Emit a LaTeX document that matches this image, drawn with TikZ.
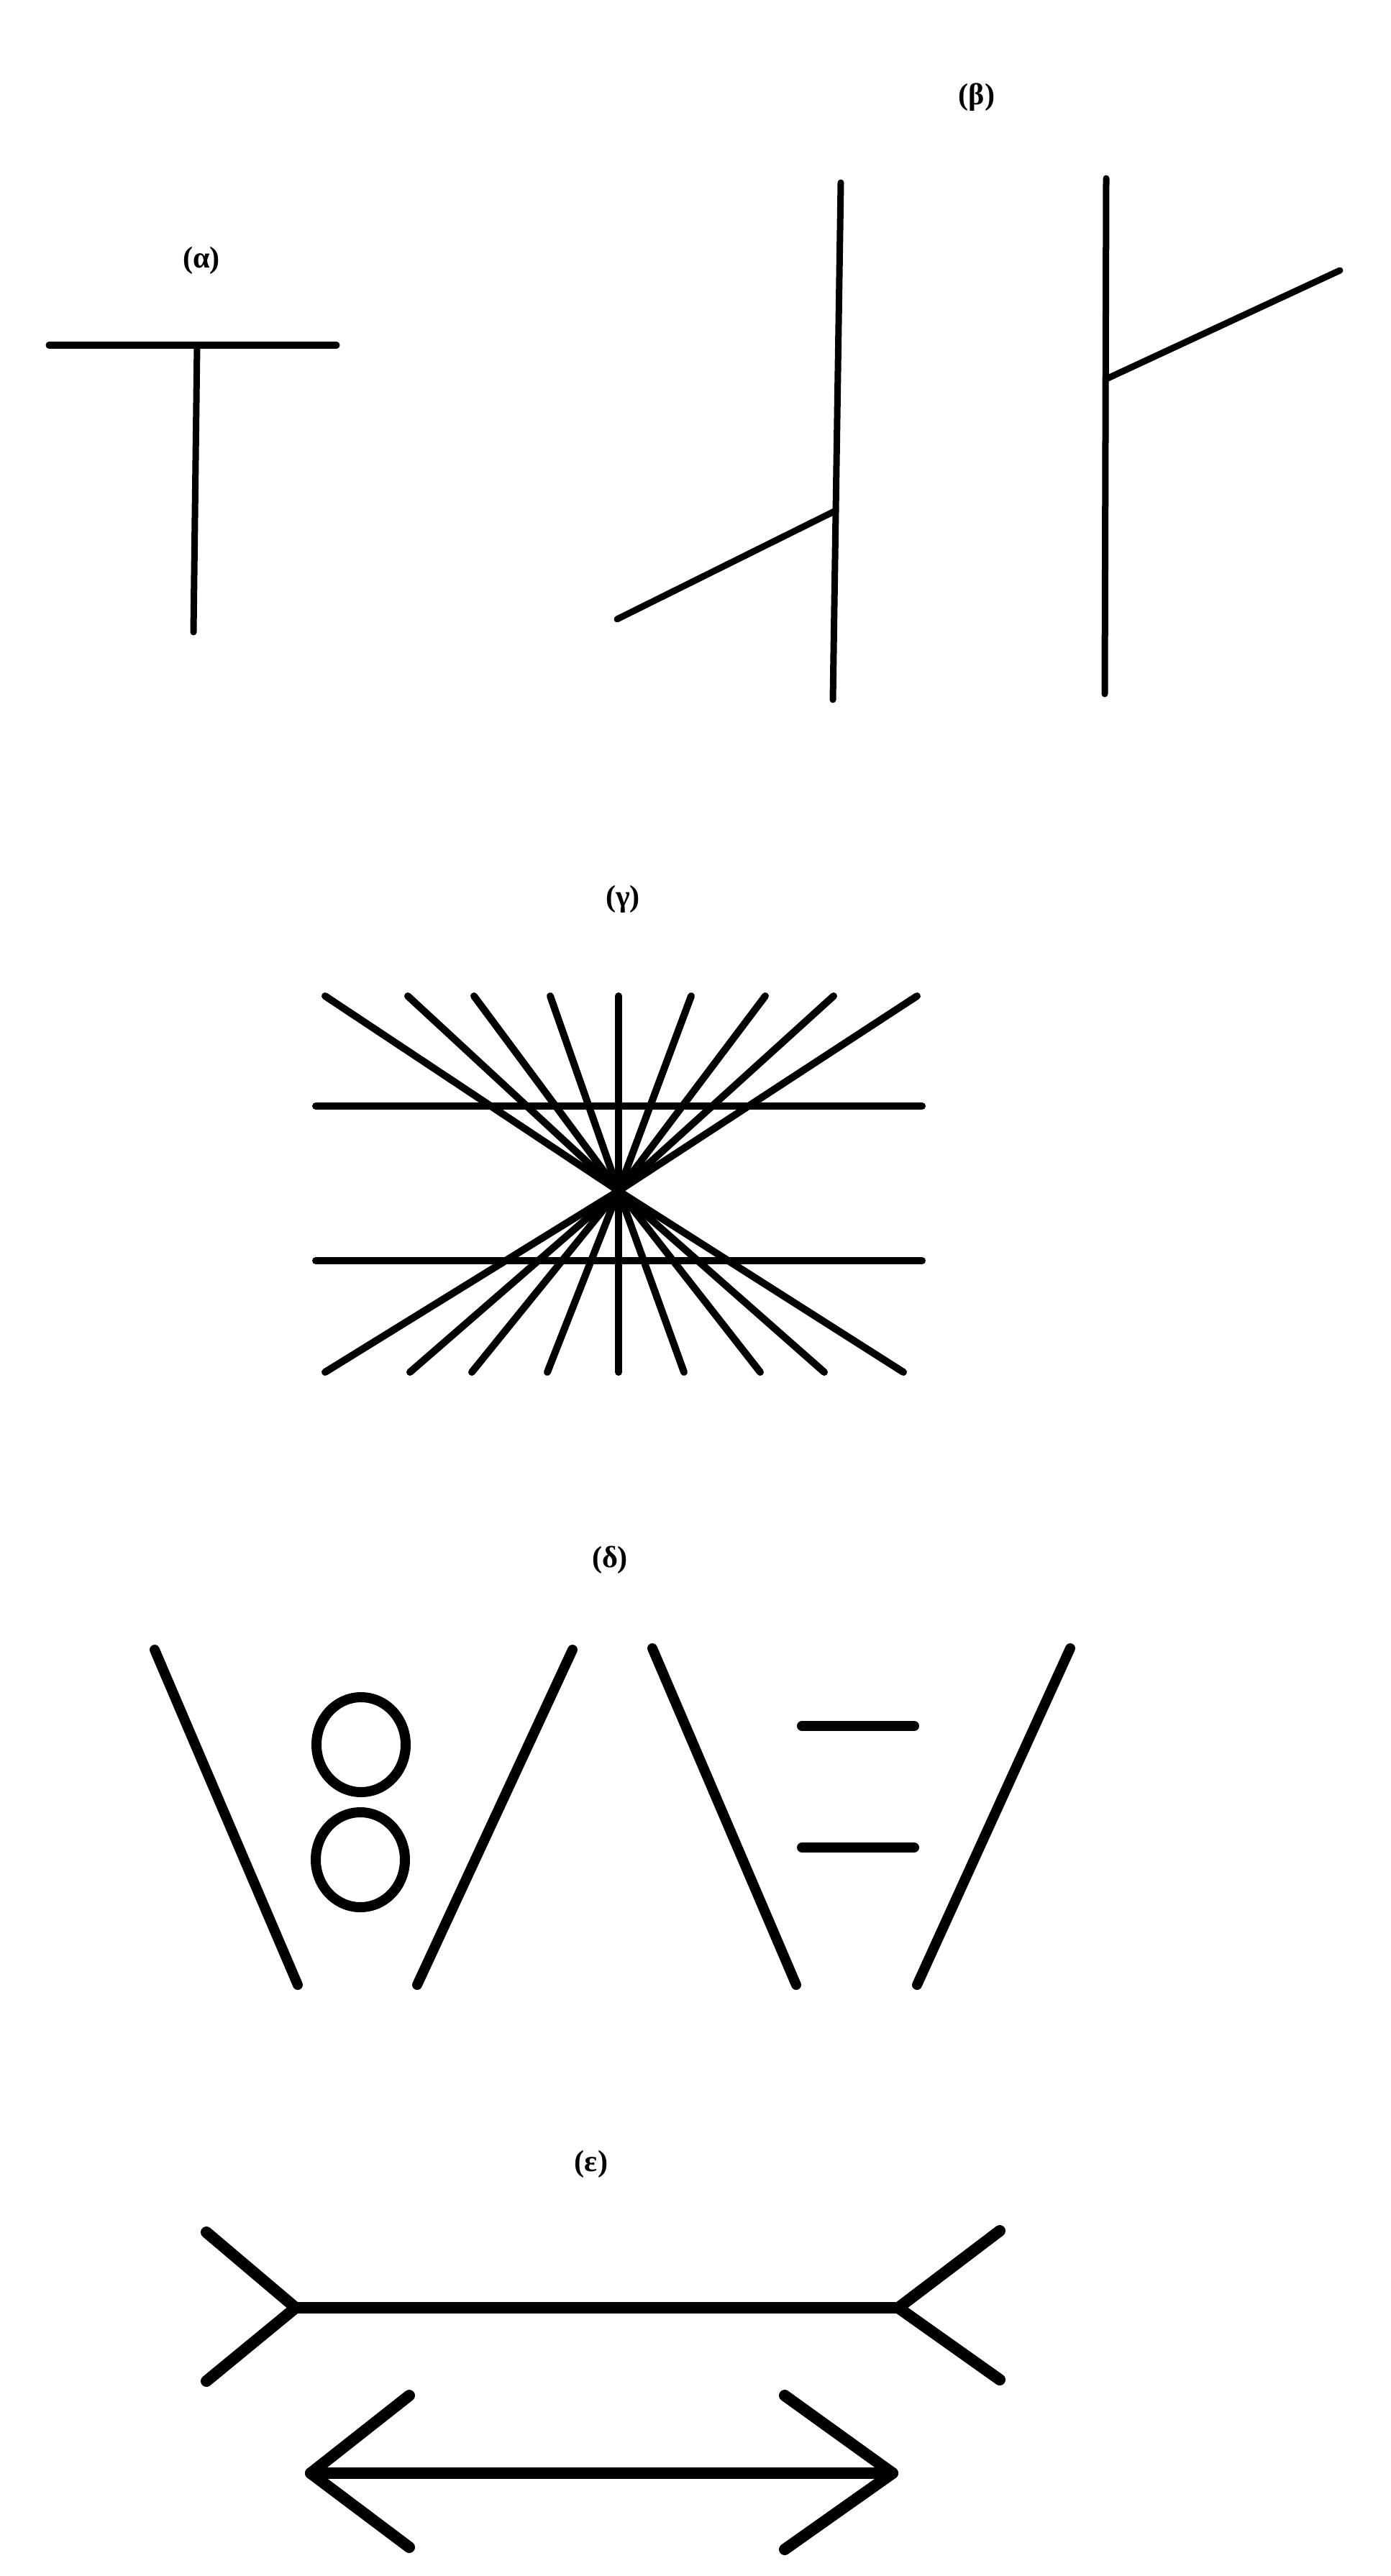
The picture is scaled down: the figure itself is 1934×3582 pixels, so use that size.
\documentclass[tikz,border=0pt]{standalone}
\usepackage{fontspec}
\setmainfont{Liberation Serif}
\tikzset{
  tag/.style={font=\bfseries\fontsize{12}{14}\selectfont, inner sep=0pt},
  thinline/.style={line width=0.09cm, line cap=round},
  rayline/.style={line width=0.1cm, line cap=round},
  railline/.style={line width=0.14cm, line cap=round},
  finline/.style={line width=0.16cm, line cap=round, line join=round}
}
\begin{document}
\begin{tikzpicture}[x=0.01cm, y=-0.01cm]
\useasboundingbox (0,0) rectangle (1934,3582);
\path node[tag] (la) at (280,362) {(α)}
node[tag] (lb) at (1358,135) {(β)}
node[tag] (lg) at (866,1250) {(γ)}
node[tag] (ld) at (848,2169) {(δ)}
node[tag] (le) at (822,3009) {(ε)}
;
% (a)
\path coordinate (TL) at (68,480)
coordinate (TR) at (468,480)
coordinate (TT) at (274,480)
coordinate (TB) at (269,879)
;
\draw[thinline] (TL) -- (TR);
\draw[thinline] (TT) -- (TB);
% (b)
\path coordinate (P1t) at (1169,254)
coordinate (P1b) at (1158,973)
coordinate (P2t) at (1538,248)
coordinate (P2b) at (1536,965)
coordinate (O1a) at (858,861)
coordinate (O1b) at (1162,710)
coordinate (O2a) at (1538,527)
coordinate (O2b) at (1863,376)
;
\draw[thinline] (P1t) -- (P1b);
\draw[thinline] (P2t) -- (P2b);
\draw[thinline] (O1a) -- (O1b);
\draw[thinline] (O2a) -- (O2b);
% (c)
\path coordinate (G) at (860,1656)
coordinate (H1a) at (439,1538)
coordinate (H1b) at (1282,1538)
coordinate (H2a) at (439,1753)
coordinate (H2b) at (1282,1753)
;
\foreach \dx [count=\i] in {-408,-293,-201,-95,0,101,204,299,415}
  \path coordinate (up\i) at (860+\dx,1385);
\foreach \dx [count=\i] in {-408,-290,-204,-99,0,91,197,286,396}
  \path coordinate (dn\i) at (860+\dx,1908);
\foreach \i in {1,...,9}{
  \draw[rayline] (G) -- (up\i);
  \draw[rayline] (G) -- (dn\i);
}
\draw[rayline] (H1a) -- (H1b);
\draw[rayline] (H2a) -- (H2b);
% (d)
\path coordinate (V1a) at (215,2294)
coordinate (V1b) at (414,2760)
coordinate (V2a) at (796,2294)
coordinate (V2b) at (580,2760)
coordinate (V3a) at (907,2292)
coordinate (V3b) at (1107,2760)
coordinate (V4a) at (1488,2292)
coordinate (V4b) at (1275,2760)
coordinate (C1) at (502,2426)
coordinate (C2) at (501,2586)
coordinate (S1a) at (1115,2400)
coordinate (S1b) at (1271,2400)
coordinate (S2a) at (1115,2569)
coordinate (S2b) at (1271,2569)
;
\draw[railline] (V1a) -- (V1b);
\draw[railline] (V2a) -- (V2b);
\draw[railline] (V3a) -- (V3b);
\draw[railline] (V4a) -- (V4b);
\draw[railline] (C1) ellipse [x radius=62, y radius=66];
\draw[railline] (C2) ellipse [x radius=62, y radius=66];
\draw[railline] (S1a) -- (S1b);
\draw[railline] (S2a) -- (S2b);
% (e)
\path coordinate (M1l) at (411,3209)
coordinate (M1r) at (1249,3209)
coordinate (M1lu) at (287,3104)
coordinate (M1ld) at (287,3311)
coordinate (M1ru) at (1390,3102)
coordinate (M1rd) at (1390,3309)
coordinate (M2l) at (432,3439)
coordinate (M2r) at (1241,3439)
coordinate (M2lu) at (569,3331)
coordinate (M2ld) at (569,3542)
coordinate (M2ru) at (1091,3331)
coordinate (M2rd) at (1091,3545)
;
\draw[finline] (M1l) -- (M1r);
\draw[finline] (M1lu) -- (M1l) -- (M1ld);
\draw[finline] (M1ru) -- (M1r) -- (M1rd);
\draw[finline] (M2l) -- (M2r);
\draw[finline] (M2lu) -- (M2l) -- (M2ld);
\draw[finline] (M2ru) -- (M2r) -- (M2rd);
\end{tikzpicture}
\end{document}
